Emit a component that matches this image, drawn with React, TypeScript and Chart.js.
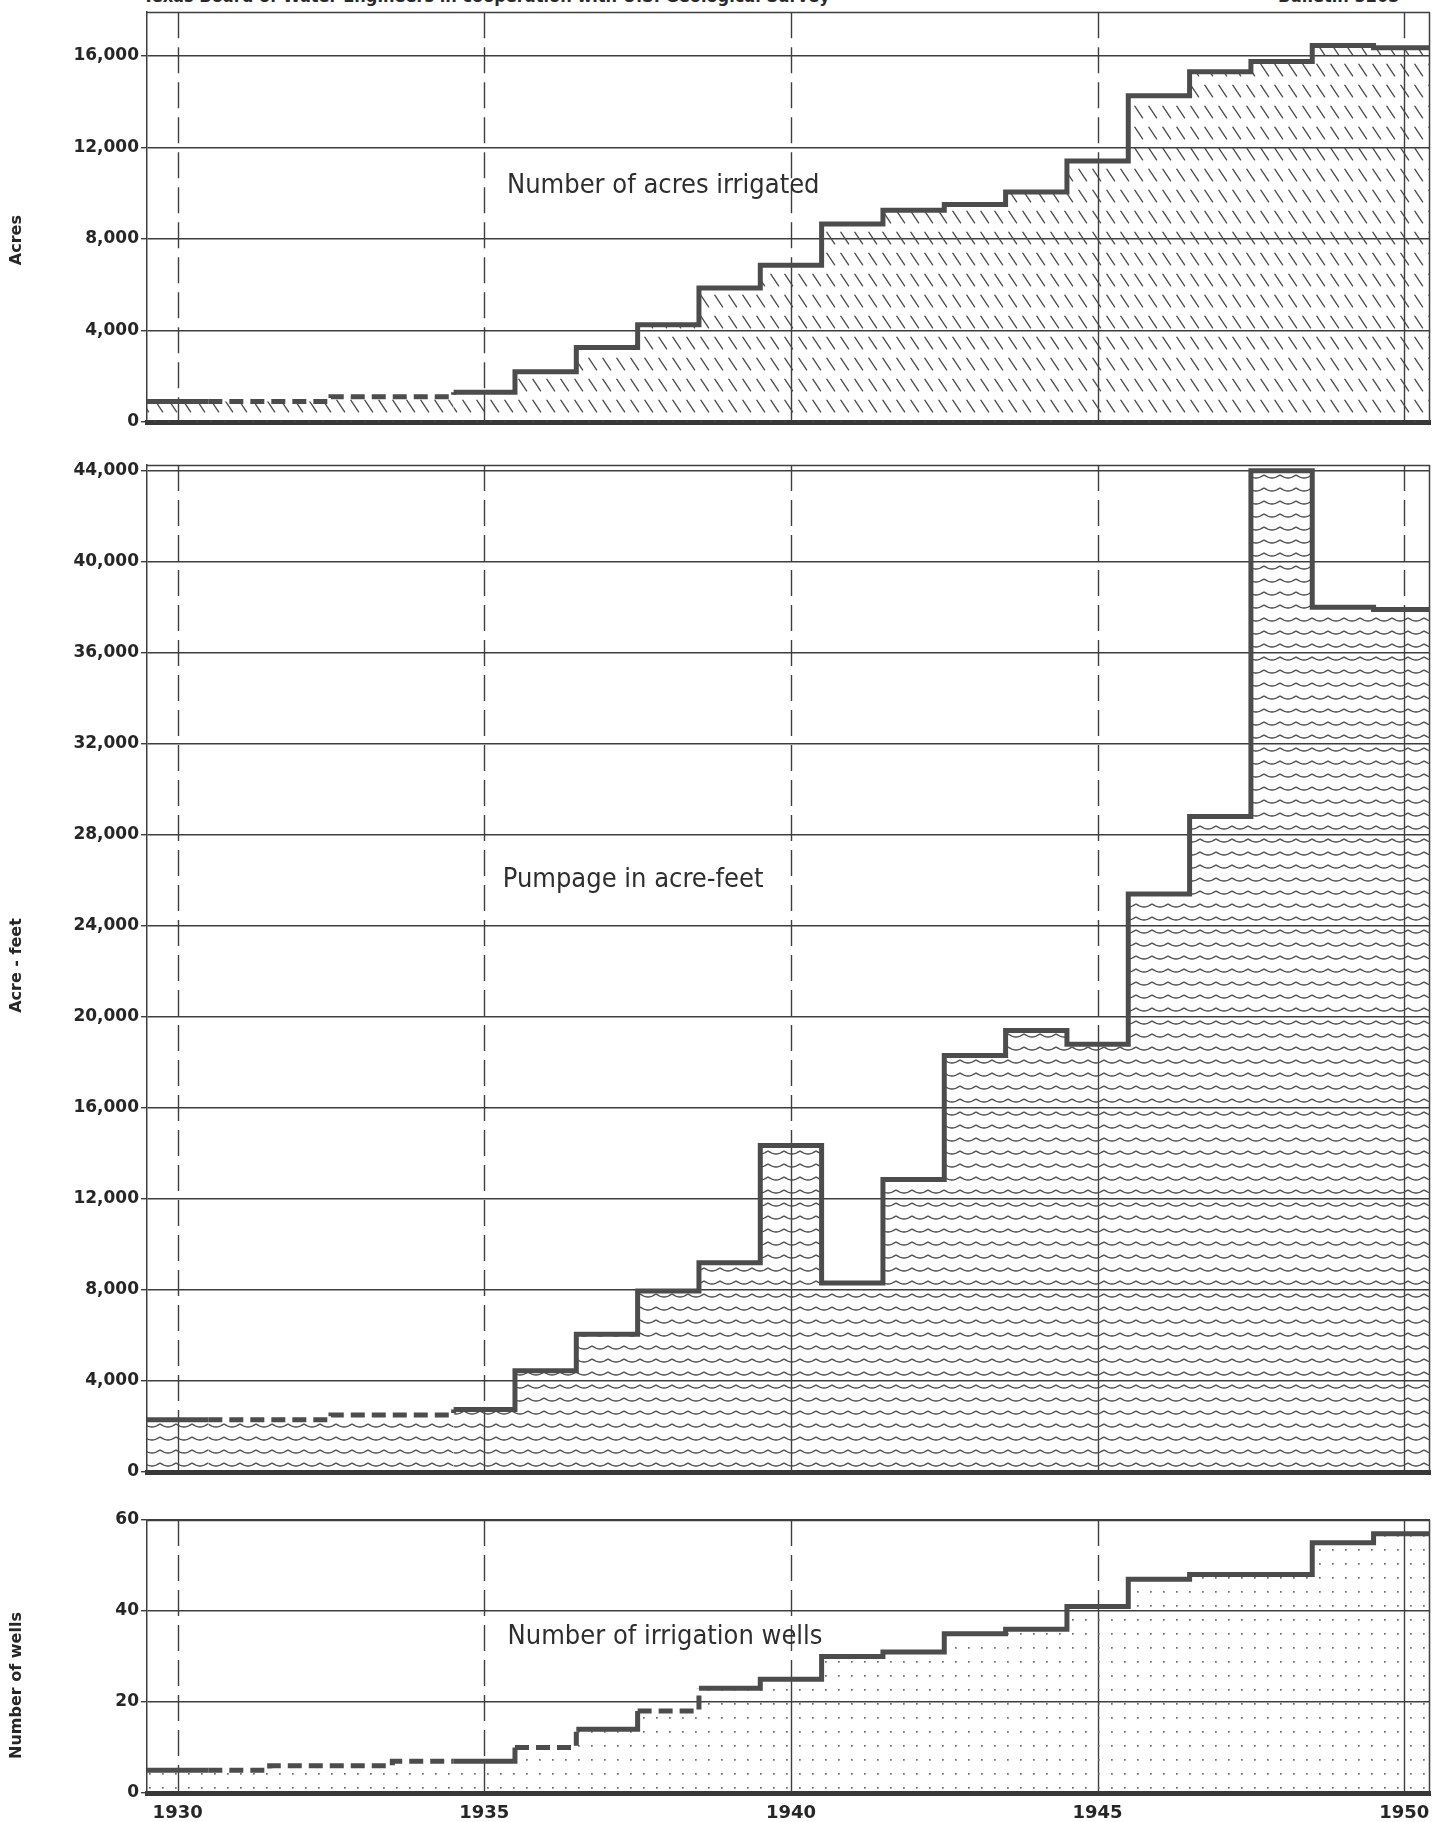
import React, { useEffect, useRef } from 'react';
import { Chart, registerables } from 'chart.js';

Chart.register(...registerables);

// ---------- data ----------
const years = [1930, 1931, 1932, 1933, 1934, 1935, 1936, 1937, 1938, 1939, 1940,
  1941, 1942, 1943, 1944, 1945, 1946, 1947, 1948, 1949, 1950];

const acresIrrigated = [900, 900, 900, 1100, 1100, 1300, 2200, 3250, 4250, 5850, 6850,
  8650, 9250, 9500, 10050, 11400, 14250, 15300, 15750, 16450, 16350];

const pumpageAcreFeet = [2300, 2300, 2300, 2500, 2500, 2750, 4450, 6050, 7950, 9200, 14350,
  8300, 12850, 18300, 19400, 18800, 25400, 28800, 44000, 38000, 37900];

const irrigationWells = [5, 5, 6, 6, 7, 7, 10, 14, 18, 23, 25,
  30, 31, 35, 36, 41, 47, 48, 48, 55, 57];

// years whose step is drawn dashed (estimated records)
const dashedAcresYears = [1931, 1932, 1933, 1934];
const dashedPumpageYears = [1931, 1932, 1933, 1934];
const dashedWellsYears = [1931, 1932, 1933, 1934, 1936, 1938];

const acresTicks = [0, 4000, 8000, 12000, 16000];
const pumpageTicks = [0, 4000, 8000, 12000, 16000, 20000, 24000, 28000, 32000, 36000, 40000, 44000];
const wellsTicks = [0, 20, 40, 60];
const yearTicks = [1930, 1935, 1940, 1945, 1950];

// ---------- styles ----------
const LINE = '#4c4c4c';
const GRID = '#3e3e3e';
const TEXT = '#262626';
const X_MIN = 1929.5;
const X_MAX = 1950.42;
const FONT = '"DejaVu Sans"';
const NARROW = '"DejaVu Sans Condensed", "DejaVu Sans"';

type PatternKind = 'hatch' | 'wave' | 'dots';

function makePattern(kind: PatternKind): CanvasPattern | string {
  const c = document.createElement('canvas');
  const ctx = c.getContext('2d');
  if (!ctx) return 'rgba(0,0,0,0.1)';
  if (kind === 'hatch') {
    c.width = 14; c.height = 21;
    ctx.strokeStyle = '#4a4a4a';
    ctx.lineWidth = 1.3;
    ctx.lineCap = 'round';
    ctx.beginPath();
    ctx.moveTo(0.8, 1.2);
    ctx.lineTo(8.6, 12.9);
    ctx.stroke();
  } else if (kind === 'wave') {
    c.width = 16; c.height = 13;
    ctx.strokeStyle = '#4a4a4a';
    ctx.lineWidth = 1.3;
    ctx.beginPath();
    for (let i = -1; i <= 17; i += 0.5) {
      const yy = 4 + 3 * Math.abs(Math.sin((Math.PI * i) / 16));
      if (i === -1) ctx.moveTo(i, yy); else ctx.lineTo(i, yy);
    }
    ctx.stroke();
  } else {
    c.width = 13; c.height = 14;
    ctx.fillStyle = '#6a6a6a';
    ctx.fillRect(6, 7, 1.7, 1.7);
  }
  return ctx.createPattern(c, 'repeat') || 'rgba(0,0,0,0.1)';
}

interface PanelSpec {
  values: number[];
  dashedYears: number[];
  yTicks: number[];
  yMax: number;
  title: string;
  titleShift: number;
  label: string;
  labelYear: number;
  labelValue: number;
  pattern: PatternKind;
  showX: boolean;
  top: number;
  height: number;
  padTop: number;
  xHeight: number;
}

const panels: PanelSpec[] = [
  {
    values: acresIrrigated, dashedYears: dashedAcresYears, yTicks: acresTicks, yMax: 17900,
    title: 'Acres', titleShift: 23, label: 'Number of acres irrigated', labelYear: 1935.37, labelValue: 10300,
    pattern: 'hatch', showX: false, top: 0, height: 445, padTop: 9, xHeight: 23,
  },
  {
    values: pumpageAcreFeet, dashedYears: dashedPumpageYears, yTicks: pumpageTicks, yMax: 44250,
    title: 'Acre - feet', titleShift: -3, label: 'Pumpage in acre-feet', labelYear: 1935.3, labelValue: 26000,
    pattern: 'wave', showX: false, top: 445, height: 1055, padTop: 20, xHeight: 28,
  },
  {
    values: irrigationWells, dashedYears: dashedWellsYears, yTicks: wellsTicks, yMax: 60,
    title: 'Number of wells', titleShift: 29, label: 'Number of irrigation wells', labelYear: 1935.38, labelValue: 34.3,
    pattern: 'dots', showX: true, top: 1500, height: 322, padTop: 20, xHeight: 29,
  },
];

function Panel({ spec }: { spec: PanelSpec }) {
  const ref = useRef<HTMLCanvasElement>(null);
  useEffect(() => {
    const canvas = ref.current;
    if (!canvas) return;
    const pattern = makePattern(spec.pattern);
    const pts = spec.values.map((v, i) => ({ x: years[i] - 0.5, y: v }));
    pts.push({ x: X_MAX, y: spec.values[spec.values.length - 1] });

    const yearLines = {
      id: 'yearLines',
      beforeDatasetsDraw(chart: any) {
        const { ctx, chartArea: a, scales } = chart;
        const x = scales.x, y = scales.y;
        ctx.save();
        ctx.strokeStyle = GRID;
        ctx.lineWidth = 1.4;
        for (const yr of yearTicks) {
          const i = years.indexOf(yr);
          const px = Math.round(x.getPixelForValue(yr)) + 0.5;
          const py = y.getPixelForValue(spec.values[i]);
          ctx.setLineDash([26, 9]);
          ctx.beginPath(); ctx.moveTo(px, a.top); ctx.lineTo(px, py); ctx.stroke();
          ctx.setLineDash([]);
          ctx.beginPath(); ctx.moveTo(px, py); ctx.lineTo(px, a.bottom); ctx.stroke();
        }
        // frame top and right
        ctx.lineWidth = 1.5;
        ctx.beginPath();
        ctx.moveTo(a.left, Math.round(a.top) + 0.5);
        ctx.lineTo(a.right, Math.round(a.top) + 0.5);
        ctx.moveTo(Math.round(a.right) - 0.5, a.top);
        ctx.lineTo(Math.round(a.right) - 0.5, a.bottom);
        ctx.stroke();
        ctx.restore();
      },
    };

    const labelPlugin = {
      id: 'panelLabel',
      afterDatasetsDraw(chart: any) {
        const { ctx, scales, chartArea: a } = chart;
        ctx.save();
        ctx.font = `normal 27px ${NARROW}`;
        ctx.fillStyle = '#2e2e2e';
        ctx.textAlign = 'left';
        ctx.textBaseline = 'middle';
        ctx.fillText(spec.label, scales.x.getPixelForValue(spec.labelYear), scales.y.getPixelForValue(spec.labelValue));
        // rotated y-axis title
        ctx.font = `bold 16px ${FONT}`;
        ctx.fillStyle = TEXT;
        ctx.textAlign = 'center';
        ctx.translate(17, (a.top + a.bottom) / 2 + spec.titleShift);
        ctx.rotate(-Math.PI / 2);
        ctx.fillText(spec.title, 0, 0);
        ctx.restore();
      },
    };

    const chart = new Chart(canvas, {
      type: 'line',
      data: {
        datasets: [{
          data: pts,
          stepped: true,
          borderColor: LINE,
          borderWidth: 5,
          borderJoinStyle: 'miter',
          borderCapStyle: 'butt',
          backgroundColor: pattern as any,
          fill: 'origin',
          pointRadius: 0,
          segment: {
            borderDash: (ctx: any) => (spec.dashedYears.includes(years[ctx.p0DataIndex]) ? [14, 7] : undefined),
          },
        }],
      },
      options: {
        responsive: false,
        maintainAspectRatio: false,
        animation: false,
        events: [],
        layout: { padding: { top: spec.padTop, right: 16, left: 0, bottom: 0 } },
        plugins: { legend: { display: false }, tooltip: { enabled: false } },
        scales: {
          x: {
            type: 'linear',
            min: X_MIN,
            max: X_MAX,
            grid: { display: false },
            border: { display: true, color: '#383838', width: 5 },
            afterBuildTicks: (s: any) => { s.ticks = yearTicks.map((v) => ({ value: v })); },
            afterFit: (s: any) => { s.height = spec.xHeight; },
            ticks: {
              display: spec.showX,
              autoSkip: false,
              maxRotation: 0,
              padding: 2,
              color: TEXT,
              font: { family: FONT, size: 18, weight: 'bold' },
              callback: (v: any) => String(v),
            },
          },
          y: {
            type: 'linear',
            min: 0,
            max: spec.yMax,
            afterBuildTicks: (s: any) => { s.ticks = spec.yTicks.map((v) => ({ value: v })); },
            afterFit: (s: any) => { s.width = 147; },
            grid: { color: GRID, lineWidth: 1.4, tickLength: 6, drawTicks: true },
            border: { display: true, color: GRID, width: 1.5 },
            title: { display: false },
            ticks: {
              padding: 2,
              color: TEXT,
              font: { family: FONT, size: 17, weight: 'bold' },
              callback: (v: any) => Number(v).toLocaleString('en-US'),
            },
          },
        },
      } as any,
      plugins: [yearLines, labelPlugin],
    });
    return () => chart.destroy();
  }, [spec]);

  return (
    <canvas
      ref={ref}
      width={1446}
      height={spec.height}
      style={{ position: 'absolute', left: 0, top: spec.top, display: 'block', width: 1446, height: spec.height }}
    />
  );
}

export default function App() {
  return (
    <div style={{ position: 'absolute', left: 0, top: 0, width: 1446, height: 1822, overflow: 'hidden', background: '#fff' }}>
      <div style={{ position: 'absolute', left: 143, top: -13, font: `bold 18px ${NARROW}`, color: '#2a2a2a', whiteSpace: 'nowrap', lineHeight: '18px' }}>
        Texas Board of Water Engineers in cooperation with U.S. Geological Survey
      </div>
      <div style={{ position: 'absolute', left: 1278, top: -13, font: `bold 18px ${NARROW}`, color: '#2a2a2a', whiteSpace: 'nowrap', lineHeight: '18px' }}>
        Bulletin 5203
      </div>
      {panels.map((p, i) => <Panel key={i} spec={p} />)}
    </div>
  );
}
